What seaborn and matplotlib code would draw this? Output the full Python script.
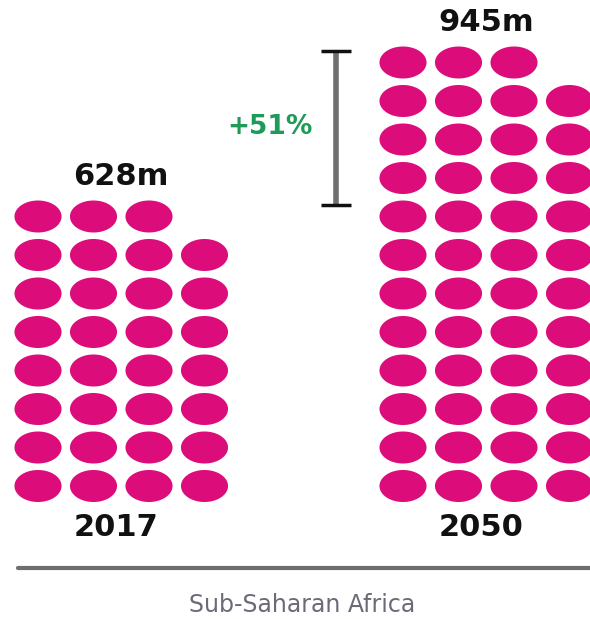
import numpy as np
import pandas as pd
import matplotlib
matplotlib.use("Agg")
import matplotlib.pyplot as plt
from matplotlib.path import Path
from matplotlib.markers import MarkerStyle
import seaborn as sns

# data
years = ["2017", "2050"]
population = [628, 945]          # millions
value_labels = ["628m", "945m"]
per_dot = 20                     # millions per dot
growth_label = "+51%"
region = "Sub-Saharan Africa"

sns.set_style("white")
plt.rcParams["font.family"] = ["DejaVu Sans"]

pink = "#dc0c7a"
green = "#1e9b58"

# layout (pixel-like units, y down)
per_row = 4
group_x0 = [38, 403]
dx = 55.5
bottom_y = 486
dy = 38.5

rows = []
for yr, pop, x0 in zip(years, population, group_x0):
    n = int(round(pop / per_dot))
    for k in range(n):
        r = k // per_row
        c = k % per_row
        rows.append({"year": yr, "x": x0 + c * dx, "y": bottom_y - r * dy})
dots = pd.DataFrame(rows)

t = np.linspace(0, 2 * np.pi, 60)
ell = Path(np.column_stack([np.cos(t), 0.68 * np.sin(t)]), closed=True)

fig = plt.figure(figsize=(5.9, 6.19), dpi=100)
ax = fig.add_axes([0, 0, 1, 1])
sns.scatterplot(data=dots, x="x", y="y", hue="year", palette=[pink, pink],
                marker=MarkerStyle(ell), s=1150, linewidth=0, legend=False, ax=ax)
ax.set_xlim(0, 590)
ax.set_ylim(619, 0)
ax.axis("off")

tops = {}
for yr, lab, x0 in zip(years, value_labels, group_x0):
    top = dots.loc[dots.year == yr, "y"].min()
    tops[yr] = top
    cx = x0 + dx * (per_row - 1) / 2
    ax.text(cx, top - 40, lab, ha="center", va="center", fontsize=22,
            fontweight="bold", color="#111111")
    ax.text(cx - 5, bottom_y + 41, yr, ha="center", va="center", fontsize=22,
            fontweight="bold", color="#111111")

# change marker
bx = 336
y_hi = tops[years[1]] - 12
y_lo = tops[years[0]] - 12
ax.plot([bx, bx], [y_hi, y_lo], color="#707070", lw=4, solid_capstyle="butt")
for yy in (y_hi, y_lo):
    ax.plot([bx - 15, bx + 15], [yy, yy], color="#111111", lw=2.5, solid_capstyle="butt")
ax.text(bx - 66, (y_hi + y_lo) / 2 - 1, growth_label, ha="center", va="center",
        fontsize=19, fontweight="bold", color=green)

ax.plot([18, 590], [568, 568], color="#6e6e6e", lw=3)
ax.text(302, 605, region, ha="center", va="center", fontsize=17, color="#6d6a78")

fig.savefig("out.png", dpi=100)
